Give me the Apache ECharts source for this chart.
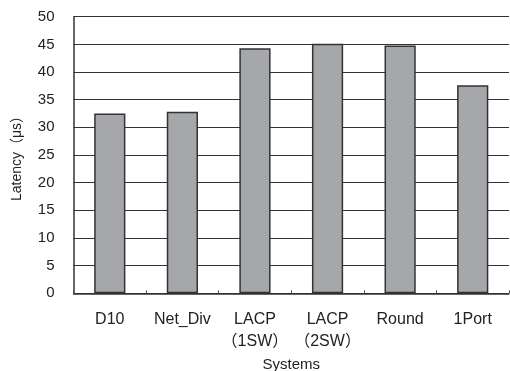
<!DOCTYPE html>
<html>
<head>
<meta charset="utf-8">
<script src="https://cdn.jsdelivr.net/npm/echarts@6/dist/echarts.min.js"></script>
<style>
  html, body { margin: 0; padding: 0; background: #fff; }
  #chart { width: 510px; height: 371px; }
</style>
</head>
<body>
<div id="chart"></div>
<script>
// Latency per system (microseconds)
const systems = ['D10', 'Net_Div', 'LACP\n（1SW）', 'LACP\n（2SW）', 'Round', '1Port'];
const latency = [32.5, 32.8, 44.3, 45.1, 44.8, 37.6];
const yTicks = { min: 0, max: 50, interval: 5 };

const font = '"Liberation Sans", Arial, "Noto Sans CJK JP", sans-serif';
const chart = echarts.init(document.getElementById('chart'));
chart.setOption({
  animation: false,
  backgroundColor: '#ffffff',
  grid: { left: 73.5, right: 1, top: 16.7, bottom: 77.7, containLabel: false, outerBoundsMode: 'none' },
  xAxis: {
    type: 'category',
    data: systems,
    name: 'Systems',
    nameLocation: 'middle',
    nameGap: 62,
    nameTextStyle: { color: '#222', fontSize: 15, fontFamily: font },
    axisLine: { lineStyle: { color: '#333', width: 1.5 } },
    axisTick: { show: true, inside: true, length: 3, lineStyle: { color: '#555' } },
    axisLabel: { color: '#222', fontSize: 16, fontFamily: font, margin: 15, lineHeight: 22, interval: 0 },
    splitLine: { show: false }
  },
  yAxis: {
    type: 'value',
    min: yTicks.min,
    max: yTicks.max,
    interval: yTicks.interval,
    name: 'Latency（μs）',
    nameLocation: 'middle',
    nameGap: 49,
    nameTextStyle: { color: '#222', fontSize: 14, fontFamily: font },
    axisLine: { show: true, lineStyle: { color: '#333', width: 1.5 } },
    axisTick: { show: false },
    axisLabel: { color: '#222', fontSize: 15, fontFamily: font, margin: 19 },
    splitLine: { show: true, lineStyle: { color: '#333', width: 1 } }
  },
  series: [{
    type: 'bar',
    data: latency,
    barWidth: '43%',
    itemStyle: { color: '#a6a7ab', borderColor: '#333', borderWidth: 1.5 }
  }]
});
</script>
</body>
</html>
